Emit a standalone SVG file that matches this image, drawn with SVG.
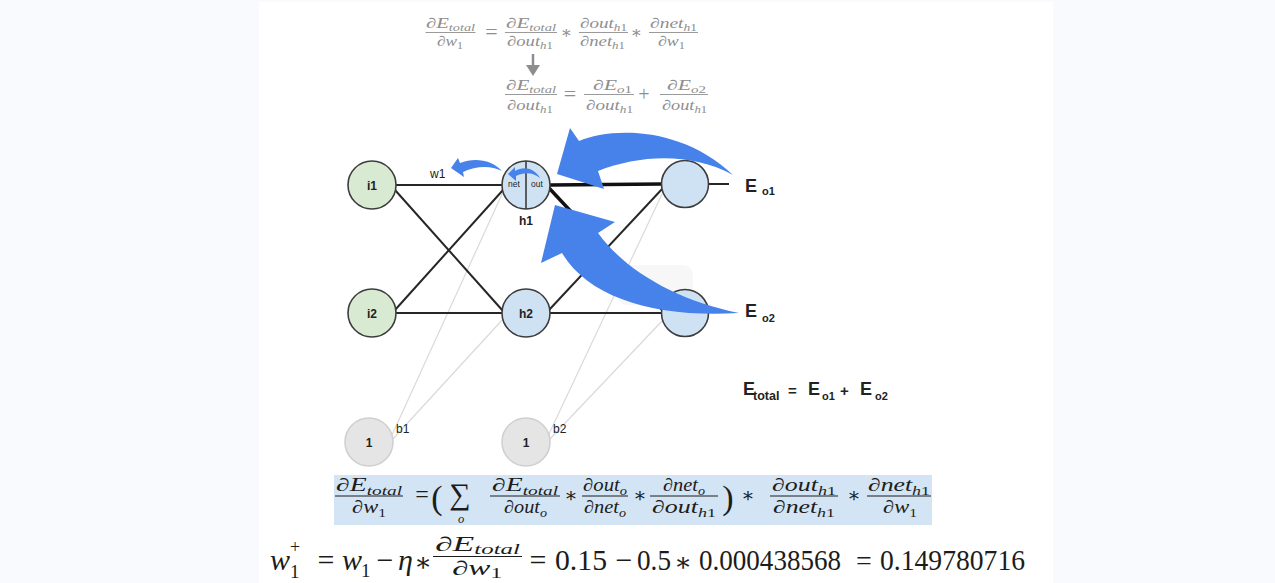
<svg xmlns="http://www.w3.org/2000/svg" width="1275" height="583" viewBox="0 0 1275 583">
<defs>
<style>
.m{font-family:"Liberation Serif","DejaVu Serif",serif;font-style:italic}
.n{font-style:normal}
.gy{fill:#8e8e8e}
.bk{fill:#1c1c1c}
.bg{stroke:#8e8e8e;stroke-width:0.9}
.bb{stroke:#1c1c1c;stroke-width:1}
.sans{font-family:"Liberation Sans",Arial,sans-serif;fill:#222}
.b{font-weight:bold}
.edge{stroke:#262626;stroke-width:2;fill:none}
.thick{stroke:#111;stroke-width:3.5}
.bias{stroke:#dadada;stroke-width:1.2}
.nd{stroke:#3d3d3d;stroke-width:1.6}
.in{fill:#d9ead3}
.hid{fill:#cfe2f3}
.bs{fill:#e5e5e5;stroke:#d0d0d0;stroke-width:1.6}
.blue{fill:#4682ea}
</style>
</defs>
<rect width="1275" height="583" fill="#f9fafd"/>
<rect x="259" y="2" width="794" height="581" fill="#ffffff"/>

<!-- top formula -->
<g id="formula-top" class="m gy" font-size="14.5">
<text x="426" y="28" textLength="49" lengthAdjust="spacingAndGlyphs">∂E<tspan font-size="10" dy="3">total</tspan></text>
<line class="bg" x1="425.5" y1="32.5" x2="475.5" y2="32.5"/>
<text x="437" y="46" textLength="26" lengthAdjust="spacingAndGlyphs">∂w<tspan class="n" font-size="10" dy="3">1</tspan></text>
<text class="n" x="491.5" y="38.5" font-size="22" text-anchor="middle">=</text>
<text x="506" y="28" textLength="50" lengthAdjust="spacingAndGlyphs">∂E<tspan font-size="10" dy="3">total</tspan></text>
<line class="bg" x1="505" y1="32.5" x2="557" y2="32.5"/>
<text x="507" y="46" textLength="46" lengthAdjust="spacingAndGlyphs">∂out<tspan font-size="10" dy="3">h<tspan class="n">1</tspan></tspan></text>
<text class="n" x="566.5" y="38" font-size="17" text-anchor="middle">∗</text>
<text x="580" y="28" textLength="47" lengthAdjust="spacingAndGlyphs">∂out<tspan font-size="10" dy="3">h<tspan class="n">1</tspan></tspan></text>
<line class="bg" x1="579" y1="32.5" x2="628" y2="32.5"/>
<text x="580" y="46" textLength="45" lengthAdjust="spacingAndGlyphs">∂net<tspan font-size="10" dy="3">h<tspan class="n">1</tspan></tspan></text>
<text class="n" x="636.5" y="38" font-size="17" text-anchor="middle">∗</text>
<text x="650" y="28" textLength="47" lengthAdjust="spacingAndGlyphs">∂net<tspan font-size="10" dy="3">h<tspan class="n">1</tspan></tspan></text>
<line class="bg" x1="649" y1="32.5" x2="698" y2="32.5"/>
<text x="658" y="46" textLength="27" lengthAdjust="spacingAndGlyphs">∂w<tspan class="n" font-size="10" dy="3">1</tspan></text>

<line x1="533" y1="54" x2="533" y2="67" stroke="#8e8e8e" stroke-width="2.5"/>
<polygon points="526,65 540,65 533,76" fill="#8e8e8e"/>

<text x="506" y="90" textLength="50" lengthAdjust="spacingAndGlyphs">∂E<tspan font-size="10" dy="3">total</tspan></text>
<line class="bg" x1="505" y1="94.5" x2="557" y2="94.5"/>
<text x="507" y="110" textLength="46" lengthAdjust="spacingAndGlyphs">∂out<tspan font-size="10" dy="3">h<tspan class="n">1</tspan></tspan></text>
<text class="n" x="570" y="100.5" font-size="22" text-anchor="middle">=</text>
<text x="593" y="90" textLength="39" lengthAdjust="spacingAndGlyphs">∂E<tspan font-size="10" dy="3">o<tspan class="n">1</tspan></tspan></text>
<line class="bg" x1="584" y1="94.5" x2="634" y2="94.5"/>
<text x="586" y="110" textLength="47" lengthAdjust="spacingAndGlyphs">∂out<tspan font-size="10" dy="3">h<tspan class="n">1</tspan></tspan></text>
<text class="n" x="644" y="100.5" font-size="20" text-anchor="middle">+</text>
<text x="667" y="90" textLength="39" lengthAdjust="spacingAndGlyphs">∂E<tspan font-size="10" dy="3">o<tspan class="n">2</tspan></tspan></text>
<line class="bg" x1="660" y1="94.5" x2="708" y2="94.5"/>
<text x="662" y="110" textLength="45" lengthAdjust="spacingAndGlyphs">∂out<tspan font-size="10" dy="3">h<tspan class="n">1</tspan></tspan></text>
</g>

<rect x="617" y="265" width="76" height="40" rx="10" fill="#f7f7f7"/>

<!-- connectors -->
<g id="connectors">
<line class="bias" x1="392" y1="435" x2="503" y2="192"/>
<line class="bias" x1="392" y1="440" x2="504" y2="318"/>
<line class="bias" x1="548" y1="436" x2="663" y2="192"/>
<line class="bias" x1="549" y1="440" x2="663" y2="320"/>
<line class="edge" x1="396" y1="185" x2="502" y2="185"/>
<line class="edge" x1="395" y1="190" x2="503" y2="311"/>
<line class="edge" x1="395" y1="310" x2="503" y2="190"/>
<line class="edge" x1="396" y1="313" x2="502" y2="313"/>
<line class="edge" x1="549" y1="310" x2="663" y2="188"/>
<line class="edge" x1="550" y1="313" x2="661" y2="313"/>
<line class="edge thick" x1="550" y1="185" x2="662" y2="184"/>
<line class="edge thick" x1="549" y1="188" x2="663" y2="310"/>
<line class="edge" x1="708" y1="184" x2="729" y2="184" stroke-width="1.5"/>
</g>

<!-- nodes -->
<g id="node-i1"><circle class="nd in" cx="372" cy="185" r="24"/><text class="sans b" x="372" y="189.5" font-size="12" text-anchor="middle">i1</text></g>
<g id="node-i2"><circle class="nd in" cx="372" cy="313" r="24"/><text class="sans b" x="372" y="317.5" font-size="12" text-anchor="middle">i2</text></g>
<g id="node-h1"><circle class="nd hid" cx="526" cy="185" r="24"/><line x1="526" y1="161" x2="526" y2="209" stroke="#3d3d3d" stroke-width="1.6"/><text class="sans" x="514" y="187" font-size="8.5" text-anchor="middle">net</text><text class="sans" x="537" y="187" font-size="8.5" text-anchor="middle">out</text><text class="sans b" x="526" y="225" font-size="12" text-anchor="middle">h1</text></g>
<g id="node-h2"><circle class="nd hid" cx="526" cy="313" r="24"/><text class="sans b" x="526" y="317.5" font-size="12" text-anchor="middle">h2</text></g>
<g id="node-o1"><circle class="nd hid" cx="685" cy="184" r="23.5"/></g>
<g id="node-o2"><circle class="nd hid" cx="685" cy="313" r="23.5"/></g>
<g id="node-b1"><circle class="bs" cx="369" cy="442" r="24"/><text class="sans b" x="369" y="446.5" font-size="12" text-anchor="middle">1</text><text class="sans" x="396" y="433" font-size="12">b1</text></g>
<g id="node-b2"><circle class="bs" cx="526" cy="442" r="24"/><text class="sans b" x="526" y="446.5" font-size="12" text-anchor="middle">1</text><text class="sans" x="553" y="433" font-size="12">b2</text></g>
<g id="label-w1"><text class="sans" x="430" y="178" font-size="12">w1</text></g>

<g id="label-eo1"><text class="sans b" x="745" y="192" font-size="18">E</text><text class="sans b" x="762" y="195" font-size="11">o1</text></g>
<g id="label-eo2"><text class="sans b" x="745" y="317" font-size="18">E</text><text class="sans b" x="762" y="322" font-size="11">o2</text></g>
<g id="label-etotal"><text class="sans b" x="743" y="395" font-size="18">E</text><text class="sans b" x="753" y="400" font-size="12.5">total</text><text class="sans b" x="788" y="396" font-size="15">=</text><text class="sans b" x="808" y="395" font-size="18">E</text><text class="sans b" x="822" y="400" font-size="11">o1</text><text class="sans b" x="840" y="396" font-size="15">+</text><text class="sans b" x="860" y="395" font-size="18">E</text><text class="sans b" x="875" y="400" font-size="11">o2</text></g>

<!-- blue arrows -->
<g id="arrows">
<path class="blue" d="M557,174 L570,128 L579,141 C610,128 680,125 733,175 C690,152 640,155 598,171 L604,189 Z"/>
<path class="blue" d="M555,205 L615,222 L598,233 C625,270 675,300 739,313 C660,318 590,300 562,253 L541,263 Z"/>
<path class="blue" d="M451,168 L458,158 L460,163 C475,157 492,160 502,171 C490,165 476,166 463,172 L464,177 Z"/>
<path class="blue" d="M508,174 L515,167 L515,171 C524,166 534,168 540,178 C533,172 524,172 516,176 L516,181 Z"/>
</g>

<!-- highlighted formula -->
<rect x="334" y="475" width="598" height="50" fill="#d3e4f4"/>
<g id="formula-mid" class="m bk" font-size="18">
<text x="336" y="491" textLength="66" lengthAdjust="spacingAndGlyphs">∂E<tspan font-size="12.5" dy="3.5">total</tspan></text>
<line class="bb" x1="335" y1="496" x2="403" y2="496"/>
<text x="352" y="513" textLength="34" lengthAdjust="spacingAndGlyphs">∂w<tspan class="n" font-size="12.5" dy="3.5">1</tspan></text>
<text class="n" x="422" y="502" font-size="24" text-anchor="middle">=</text>
<text class="n" x="437" y="509" font-size="34" text-anchor="middle">(</text>
<text class="n" x="460" y="504" font-size="30" text-anchor="middle">∑</text>
<text x="461" y="523" font-size="12.5" text-anchor="middle">o</text>
<text x="492" y="491" textLength="66" lengthAdjust="spacingAndGlyphs">∂E<tspan font-size="12.5" dy="3.5">total</tspan></text>
<line class="bb" x1="490" y1="496" x2="560" y2="496"/>
<text x="504" y="513" textLength="43" lengthAdjust="spacingAndGlyphs">∂out<tspan font-size="12.5" dy="3.5">o</tspan></text>
<text class="n" x="571" y="502" font-size="20" text-anchor="middle">∗</text>
<text x="583" y="491" textLength="44" lengthAdjust="spacingAndGlyphs">∂out<tspan font-size="12.5" dy="3.5">o</tspan></text>
<line class="bb" x1="582" y1="496" x2="628" y2="496"/>
<text x="584" y="513" textLength="42" lengthAdjust="spacingAndGlyphs">∂net<tspan font-size="12.5" dy="3.5">o</tspan></text>
<text class="n" x="640" y="502" font-size="20" text-anchor="middle">∗</text>
<text x="663" y="491" textLength="42" lengthAdjust="spacingAndGlyphs">∂net<tspan font-size="12.5" dy="3.5">o</tspan></text>
<line class="bb" x1="650" y1="496" x2="718" y2="496"/>
<text x="652" y="513" textLength="64" lengthAdjust="spacingAndGlyphs">∂out<tspan font-size="12.5" dy="3.5">h<tspan class="n">1</tspan></tspan></text>
<text class="n" x="728" y="509" font-size="34" text-anchor="middle">)</text>
<text class="n" x="748" y="502" font-size="20" text-anchor="middle">∗</text>
<text x="772" y="491" textLength="64" lengthAdjust="spacingAndGlyphs">∂out<tspan font-size="12.5" dy="3.5">h<tspan class="n">1</tspan></tspan></text>
<line class="bb" x1="770" y1="496" x2="838" y2="496"/>
<text x="773" y="513" textLength="62" lengthAdjust="spacingAndGlyphs">∂net<tspan font-size="12.5" dy="3.5">h<tspan class="n">1</tspan></tspan></text>
<text class="n" x="854" y="502" font-size="20" text-anchor="middle">∗</text>
<text x="868" y="491" textLength="62" lengthAdjust="spacingAndGlyphs">∂net<tspan font-size="12.5" dy="3.5">h<tspan class="n">1</tspan></tspan></text>
<line class="bb" x1="867" y1="496" x2="931" y2="496"/>
<text x="883" y="513" textLength="34" lengthAdjust="spacingAndGlyphs">∂w<tspan class="n" font-size="12.5" dy="3.5">1</tspan></text>
</g>

<!-- bottom formula -->
<g id="formula-bottom" class="m bk" font-size="30">
<text x="270" y="570">w</text>
<text class="n" x="290" y="553" font-size="18">+</text>
<text class="n" x="290" y="578" font-size="19">1</text>
<text class="n" x="326" y="570" text-anchor="middle">=</text>
<text x="342" y="570">w</text>
<text class="n" x="361" y="577" font-size="19">1</text>
<text class="n" x="385" y="570" text-anchor="middle">−</text>
<text x="398" y="570">η</text>
<text class="n" x="423" y="571" font-size="26" text-anchor="middle">∗</text>
<text x="435" y="551" font-size="20" textLength="85" lengthAdjust="spacingAndGlyphs">∂E<tspan font-size="14" dy="3">total</tspan></text>
<line class="bb" x1="433" y1="556.5" x2="522" y2="556.5" stroke-width="1.2"/>
<text x="452" y="575" font-size="20" textLength="50" lengthAdjust="spacingAndGlyphs">∂w<tspan class="n" font-size="14" dy="3">1</tspan></text>
<text class="n" x="538" y="570" text-anchor="middle">=</text>
<text class="n" x="555" y="570" textLength="52" lengthAdjust="spacingAndGlyphs">0.15</text>
<text class="n" x="624" y="570" text-anchor="middle">−</text>
<text class="n" x="637" y="570" textLength="34" lengthAdjust="spacingAndGlyphs">0.5</text>
<text class="n" x="683" y="571" font-size="26" text-anchor="middle">∗</text>
<text class="n" x="699" y="570" textLength="142" lengthAdjust="spacingAndGlyphs">0.000438568</text>
<text class="n" x="864" y="570" font-size="28" text-anchor="middle">=</text>
<text class="n" x="880" y="570" textLength="145" lengthAdjust="spacingAndGlyphs">0.149780716</text>
</g>
</svg>
